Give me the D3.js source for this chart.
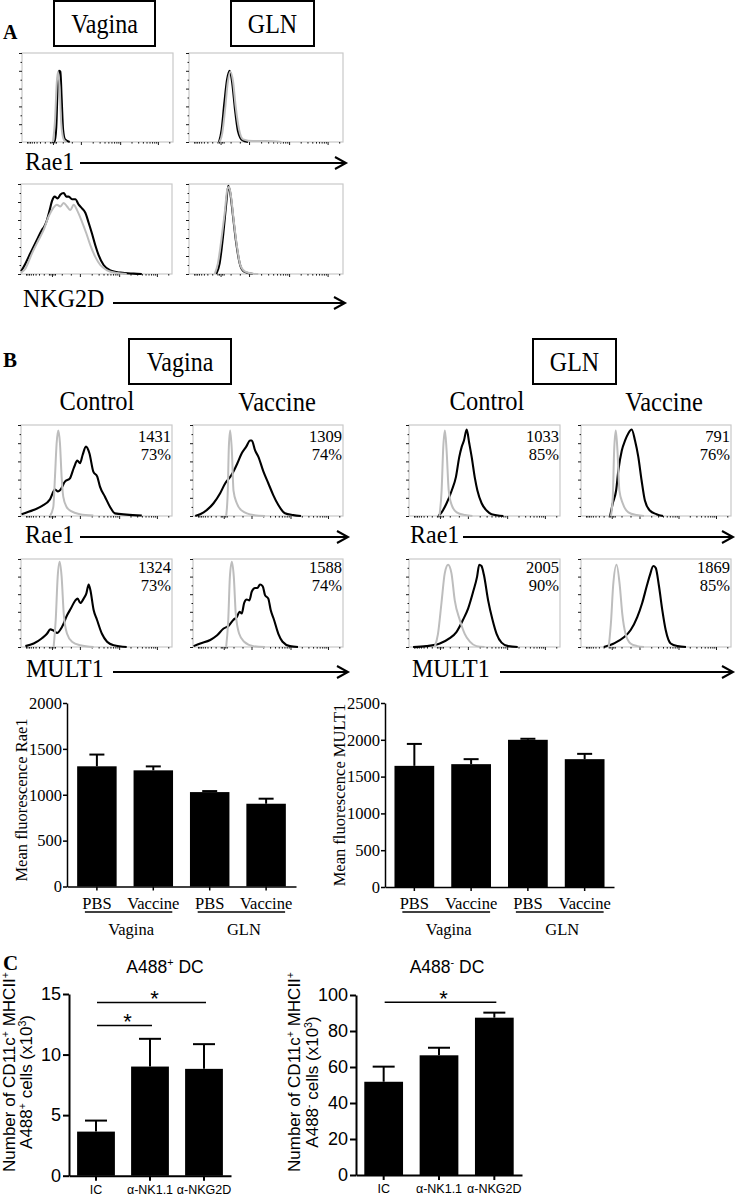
<!DOCTYPE html>
<html><head><meta charset="utf-8">
<script src="https://cdn.jsdelivr.net/npm/d3@7"></script>
<style>body{margin:0;background:#fff}svg{display:block}</style>
</head><body><script>
// ================= DATA =================
// Flow histograms: [channel position (% of axis), count (% of max)]
const histXMajorTicks = [20.5, 39, 65, 90];
const histYTicks = [0, 20, 40, 60, 80, 100];
const histYMinorTicks = [10, 30, 50, 70, 90];

const aVagRae1Black = [[20,0],[21.6,0.5],[22.7,17],[23.6,62],[24.5,80],[25.4,79],[26.3,47],[27.2,14],[28.5,3],[31.6,0]];
const aVagRae1Gray  = [[20.5,0],[21.9,25],[23,66],[23.8,79],[24.9,62],[26,21],[27.6,3],[29.4,0]];
const aGlnRae1Black = [[19.5,0],[21.2,14],[22.9,43],[24.7,70],[26.4,80],[28.1,66],[29.9,36],[31.8,12],[34.6,2],[38.3,0]];
const aGlnRae1Gray  = [[19.9,0],[21.6,10],[23.4,36],[25.1,66],[26.8,79],[28.6,68],[30.3,40],[32.5,14],[35.1,3],[41.6,1],[50.2,1],[60,0]];
const aVagNkg2dBlack = [[0,3],[1.8,8],[6.2,23],[10.6,38],[13.9,49],[15.5,53],[17.2,60],[19,71],[20.5,81],[22.3,86],[24.3,84],[26,88],[28.3,90],[30,86],[31.6,86],[33.8,83],[36,83],[38.2,77],[40.4,73],[42.6,68],[44.8,57],[47,45],[49.2,32],[51.4,21],[54.7,10],[59.2,4],[65.8,1.5],[74.6,0.4],[80,0]];
const aVagNkg2dGray  = [[0,1.5],[2.9,6],[7.3,23],[11.7,38],[15,49],[18.3,64],[21.2,73],[23.8,77],[26,75],[28.3,79],[30.5,75],[32.7,71],[34.9,77],[37.1,71],[40.4,58],[43.3,45],[45.9,32],[49.2,19],[52.5,10],[57,4],[63.6,1],[70,0]];
const aGlnNkg2dBlack = [[17.7,0],[19.9,12],[22.1,42],[24,75],[25.5,98],[26.8,90],[28.6,64],[30.7,34],[32.9,12],[35.5,3],[41.6,0]];
const aGlnNkg2dGray  = [[16.7,0],[18.8,12],[21,38],[23.2,68],[24.9,94],[26,97],[27.3,86],[29,60],[31.2,30],[33.3,10],[36.1,3],[41.6,0.4],[45,0]];

const bVagCtrlRae1Black = [[0.4,2],[8.2,6.6],[14,11],[19.2,18.3],[22.5,29],[24.5,27],[26,28.6],[29.1,37.7],[32.4,41.4],[35.1,53.5],[37.3,60.8],[39.1,58],[40.8,67],[43,76.2],[45.3,68.9],[47.9,48.7],[50.5,43.2],[52.3,32.2],[55.6,21.2],[58.9,10.2],[62.2,2.9],[69.8,1.5],[80,0.5]];
const bVagCtrlRae1Gray  = [[19.2,0],[21.4,10],[22.5,43],[23.6,80],[24.7,94],[25.8,80],[26.9,43],[28,21],[30.2,10],[33.5,5],[39,2],[47.9,0.5]];
const bVagVacRae1Black = [[1.5,0],[7.1,4],[13.7,14],[18.1,25],[21.5,36],[24.8,43],[27,49],[29.6,58],[32.5,69],[35.4,76],[38.1,83],[39.2,83],[41.4,72],[43.6,65],[46.9,49],[50.2,36],[53.5,23],[56.9,12],[61.3,3],[66.8,1],[72,0]];
const bVagVacRae1Gray  = [[22.1,0],[23.2,28],[23.9,76],[24.8,94],[25.9,72],[27,28],[29.2,14],[32.5,6],[40.3,1],[48,0]];
const bGlnCtrlRae1Black = [[19.4,0],[21.6,4],[24.9,14],[28.3,28],[31.1,43],[33.3,65],[34.9,76],[36.4,83],[38.2,95],[39.9,80],[41.5,65],[43.7,41],[45.3,28],[48.1,14],[51.4,6],[54.7,2],[62.5,0]];
const bGlnCtrlRae1Gray  = [[20.1,0],[21.6,28],[22.7,76],[23.8,94],[24.9,72],[26.3,28],[28.3,12],[31.6,4],[37.1,1],[42,0]];
const bGlnVacRae1Black = [[19.4,0],[21.2,14],[23.4,28],[24.9,50],[27.2,72],[29.4,83],[31.6,91],[33.8,95],[36,83],[38.2,65],[40.4,39],[42.6,17],[45.9,6],[50.3,2],[54.7,0]];
const bGlnVacRae1Gray  = [[19.9,0],[21.2,21],[22.1,72],[23.2,94],[24.3,72],[25.6,28],[27.8,14],[31.6,4],[37.1,1],[42,0]];

const bVagCtrlMult1Black = [[2.9,1],[8.4,4],[13.9,10],[17.2,15],[19.4,20],[21.2,19],[23.8,16],[27.2,23],[30.5,36],[33.1,44],[36,53],[37.5,55],[39.3,50],[41.5,55],[43.3,61],[44.8,71],[45.9,65],[48.1,42],[50.3,31],[53.6,15],[57,6],[61.4,2],[70,0]];
const bVagCtrlMult1Gray  = [[21.6,0],[23,31],[24.3,80],[25.6,97],[26.9,80],[28.3,38],[30.5,15],[33.8,6],[39.3,2],[48.1,0]];
const bVagVacMult1Black = [[0.4,1],[4.9,4],[11.5,8],[15.9,13],[20.4,21],[23.7,24],[27,31],[29.2,34],[31,40],[32.5,38],[34.1,50],[35.8,54],[37.6,53],[39.2,63],[41.4,67],[42.9,67],[44.7,71],[46.5,69],[48,59],[50.2,55],[51.8,42],[54,31],[56.9,15],[59.7,6],[64.6,1],[70,0]];
const bVagVacMult1Gray  = [[22.1,0],[23.5,31],[24.6,80],[25.9,97],[27.2,80],[28.5,38],[30.8,15],[34.1,6],[40.3,1],[48,0]];
const bGlnCtrlMult1Black = [[2.7,0],[11.5,1],[20.4,4],[27,10],[31.4,17],[35.8,31],[39.2,44],[42.5,63],[45.1,80],[46.5,93.5],[48,92],[49.6,82],[52.4,53],[55.3,31],[58,15],[61.3,5],[65.7,1],[72,0]];
const bGlnCtrlMult1Gray  = [[17,0],[19.2,15],[21.5,50],[23.7,84],[25.9,93.5],[28.1,84],[30.3,53],[33.6,31],[36.9,15],[40.3,6],[44.7,1],[50,0]];
const bGlnVacMult1Black = [[15.2,0],[21.9,4],[28.6,11],[33,19],[37.5,34],[40.8,50],[43.8,69],[46,82],[48.2,92],[49.8,90],[52,69],[54.2,42],[56.5,19],[59.8,4],[64.3,1],[70,0]];
const bGlnVacMult1Gray  = [[18.5,0],[20.1,31],[21.4,69],[23.7,93.5],[25.9,69],[27.5,38],[29.7,15],[33,4],[37.5,1],[42,0]];

const bRae1Stats  = [["1431","73%"],["1309","74%"],["1033","85%"],["791","76%"]];
const bMult1Stats = [["1324","73%"],["1588","74%"],["2005","90%"],["1869","85%"]];

// Bar charts (panel B)
const barCategories = ["PBS","Vaccine","PBS","Vaccine"];
const barGroups = ["Vagina","GLN"];
const rae1Mean = [1310, 1266, 1029, 902];
const rae1Err  = [128, 43, 11, 55];
const rae1Ticks = [0, 500, 1000, 1500, 2000];
const mult1Mean = [1646, 1669, 2000, 1737];
const mult1Err  = [298, 68, 14, 72];
const mult1Ticks = [0, 500, 1000, 1500, 2000, 2500];

// Panel C
const dcCategories = ["IC","α-NK1.1","α-NKG2D"];
const dcPosMean = [3.64, 9.01, 8.82];
const dcPosErr  = [0.91, 2.29, 2.04];
const dcPosTicks = [0, 5, 10, 15];
const dcPosSigPairs = [[0,2],[0,1]];
const dcPosSigLevels = [14.3, 12.4];
const dcNegMean = [51.8, 66.5, 87.4];
const dcNegErr  = [8.4, 4.2, 2.8];
const dcNegTicks = [0, 20, 40, 60, 80, 100];
const dcNegSigPairs = [[0,2]];
const dcNegSigLevels = [96];

// ================= DRAWING =================
const SERIF = "'Liberation Serif','Times New Roman',serif";
const SANS = "'Liberation Sans',Arial,sans-serif";
const svg = d3.select("body").append("svg").attr("width",736).attr("height",1196);

function txt(x, y, s, o = {}) {
  const t = svg.append("text").text(s)
    .attr("font-family", o.family || SERIF).attr("font-size", o.size || 24)
    .attr("font-weight", o.weight || "normal").attr("text-anchor", o.anchor || "start")
    .attr("fill", "#000");
  if (o.sy) t.attr("transform", `translate(${x},${y}) scale(1,${o.sy})`);
  else t.attr("x", x).attr("y", y);
  return t;
}
function rich(t, parts, size) {
  let up = false;
  parts.forEach(([s, sup]) => {
    const ts = t.append("tspan").text(s);
    if (sup) { ts.attr("font-size", size * 0.62); if (!up) { ts.attr("dy", -size * 0.38); up = true; } }
    else if (up) { ts.attr("dy", size * 0.38); up = false; }
  });
}
function box(x, y, w, h, label) {
  svg.append("rect").attr("x", x).attr("y", y).attr("width", w).attr("height", h)
    .attr("fill", "#fff").attr("stroke", "#000").attr("stroke-width", 2);
  txt(x + w / 2, y + 32, label, {anchor: "middle", size: 24, sy: 1.15});
}
function arrow(x1, x2, y) {
  svg.append("line").attr("x1", x1).attr("x2", x2 - 1).attr("y1", y).attr("y2", y)
    .attr("stroke", "#000").attr("stroke-width", 2);
  svg.append("polyline").attr("points", `${x2-11},${y-6} ${x2},${y} ${x2-11},${y+6}`)
    .attr("fill", "none").attr("stroke", "#000").attr("stroke-width", 2);
}

const histXMinorTicks = [];
[[39,65],[65,90],[90,115]].forEach(([a,b]) => { for (let k = 2; k < 10; k++) { const v = a + (b - a) * Math.log10(k); if (v < 100) histXMinorTicks.push(v); } });
for (let k = 2; k < 10; k++) histXMinorTicks.push(20.5 - 18 * Math.log10(k));
[18.5, 19.5, 21.5, 22.5, 27, 33].forEach(v => histXMinorTicks.push(v));

function hist(x0, y0, w, h, black, gray, stats, statsOff) {
  const xs = d3.scaleLinear().domain([0, 100]).range([x0, x0 + w]);
  const ys = d3.scaleLinear().domain([0, 100]).range([y0 + h, y0]);
  const g = svg.append("g");
  g.append("rect").attr("x", x0).attr("y", y0).attr("width", w).attr("height", h)
    .attr("fill", "none").attr("stroke", "#c9c9c9").attr("stroke-width", 1.2);
  const ya = g.append("g").attr("transform", `translate(${x0},0)`)
    .call(d3.axisLeft(ys).tickValues(histYTicks).tickSize(3).tickFormat(""));
  const ym = g.append("g").attr("transform", `translate(${x0},0)`)
    .call(d3.axisLeft(ys).tickValues(histYMinorTicks).tickSize(1.5).tickFormat(""));
  const xa = g.append("g").attr("transform", `translate(0,${y0 + h})`)
    .call(d3.axisBottom(xs).tickValues(histXMajorTicks).tickSize(3).tickFormat(""));
  const xm = g.append("g").attr("transform", `translate(0,${y0 + h})`)
    .call(d3.axisBottom(xs).tickValues(histXMinorTicks).tickSize(1.6).tickFormat(""));
  [ya, ym, xa, xm].forEach(a => { a.select(".domain").remove(); a.selectAll("line").attr("stroke", "#000").attr("stroke-width", 0.9); });
  const line = d3.line().x(d => xs(d[0])).y(d => ys(d[1])).curve(d3.curveMonotoneX);
  g.append("path").attr("d", line(black)).attr("fill", "none").attr("stroke", "#000").attr("stroke-width", 2.1).attr("stroke-linejoin", "round");
  g.append("path").attr("d", line(gray)).attr("fill", "none").attr("stroke", "#bdbdbd").attr("stroke-width", 2).attr("stroke-linejoin", "round");
  if (stats) {
    txt(x0 + w - 1, y0 + statsOff, stats[0], {anchor: "end", size: 16.5});
    txt(x0 + w - 1, y0 + statsOff + 18, stats[1], {anchor: "end", size: 16.5});
  }
}

// ---------- Panel A ----------
txt(3, 39, "A", {size: 20, weight: "bold"});
box(54, 1, 101, 45, "Vagina");
box(231, 1, 83, 45, "GLN");
hist(22, 53, 151, 89, aVagRae1Black, aVagRae1Gray);
hist(189, 53, 154, 89, aGlnRae1Black, aGlnRae1Gray);
txt(25, 170, "Rae1", {size: 24, sy: 1.08});
arrow(80, 346, 163);
hist(21, 184, 151, 90, aVagNkg2dBlack, aVagNkg2dGray);
hist(189, 184, 154, 90, aGlnNkg2dBlack, aGlnNkg2dGray);
txt(23, 307, "NKG2D", {size: 24, sy: 1.08});
arrow(113, 345, 303);

// ---------- Panel B ----------
txt(3, 367, "B", {size: 21, weight: "bold"});
box(129, 339, 102, 45, "Vagina");
box(533, 339, 83, 45, "GLN");
txt(97, 410, "Control", {anchor: "middle", size: 24.5, sy: 1.15});
txt(277, 411, "Vaccine", {anchor: "middle", size: 24.5, sy: 1.15});
txt(487, 410, "Control", {anchor: "middle", size: 24.5, sy: 1.15});
txt(664, 411, "Vaccine", {anchor: "middle", size: 24.5, sy: 1.15});

const bHistX = [[21,151],[193,150],[409,151],[581,150]];
const rae1Hists = [[bVagCtrlRae1Black,bVagCtrlRae1Gray],[bVagVacRae1Black,bVagVacRae1Gray],[bGlnCtrlRae1Black,bGlnCtrlRae1Gray],[bGlnVacRae1Black,bGlnVacRae1Gray]];
const mult1Hists = [[bVagCtrlMult1Black,bVagCtrlMult1Gray],[bVagVacMult1Black,bVagVacMult1Gray],[bGlnCtrlMult1Black,bGlnCtrlMult1Gray],[bGlnVacMult1Black,bGlnVacMult1Gray]];
bHistX.forEach(([x, w], i) => {
  hist(x, 425, w, 91, rae1Hists[i][0], rae1Hists[i][1], bRae1Stats[i], 17);
  hist(x, 559, w, 88, mult1Hists[i][0], mult1Hists[i][1], bMult1Stats[i], 14);
});
txt(25, 543, "Rae1", {size: 24, sy: 1.08});
arrow(80, 348, 537);
txt(410, 543, "Rae1", {size: 24, sy: 1.08});
arrow(463, 733, 537);
txt(26, 677, "MULT1", {size: 24, sy: 1.08});
arrow(113, 348, 672);
txt(412, 677, "MULT1", {size: 24, sy: 1.08});
arrow(500, 733, 672);

function styleAxis(a, family, size, sw) {
  a.attr("font-family", family).attr("font-size", size);
  a.selectAll("path,line").attr("stroke", "#000").attr("stroke-width", sw);
  a.selectAll("text").attr("fill", "#000");
}

function barChart(o) {
  const y = d3.scaleLinear().domain([0, o.max]).range([o.yb, o.yt]);
  const x = d3.scaleBand().domain(d3.range(o.means.length)).range([o.x0, o.x1]).paddingInner(o.pi).paddingOuter(o.po);
  const g = svg.append("g");
  g.selectAll("rect.bar").data(o.means).join("rect").attr("class", "bar")
    .attr("x", (d, i) => x(i)).attr("y", d => y(d)).attr("width", x.bandwidth())
    .attr("height", d => y(0) - y(d)).attr("fill", "#000");
  o.means.forEach((m, i) => {
    const cx = x(i) + x.bandwidth() / 2;
    g.append("line").attr("x1", cx).attr("x2", cx).attr("y1", y(m)).attr("y2", y(m + o.errs[i])).attr("stroke", "#000").attr("stroke-width", 2);
    g.append("line").attr("x1", cx - o.cap / 2).attr("x2", cx + o.cap / 2).attr("y1", y(m + o.errs[i])).attr("y2", y(m + o.errs[i])).attr("stroke", "#000").attr("stroke-width", 2);
  });
  const ya = g.append("g").attr("transform", `translate(${o.x0},0)`)
    .call(d3.axisLeft(y).tickValues(o.ticks).tickSize(o.ytick).tickPadding(o.ypad).tickSizeOuter(0).tickFormat(d3.format("d")));
  styleAxis(ya, o.family, o.tickFont, o.sw);
  const xa = g.append("g").attr("transform", `translate(0,${o.yb})`)
    .call(d3.axisBottom(x).tickSize(o.xtick).tickSizeOuter(0).tickFormat(i => o.cats[i]));
  styleAxis(xa, o.family, o.xFont, o.sw);
  xa.selectAll("text").attr("y", o.xLabelOff).attr("dy", null);
  return {x, y, g, cx: i => x(i) + x.bandwidth() / 2};
}

function groupLabels(c, baseY) {
  barGroups.forEach((gname, k) => {
    const a = c.cx(2 * k), b = c.cx(2 * k + 1);
    svg.append("line").attr("x1", a - 12).attr("x2", b + 19).attr("y1", baseY + 3).attr("y2", baseY + 3)
      .attr("stroke", "#000").attr("stroke-width", 1.5);
    txt((a + b) / 2 + 6, baseY + 26, gname, {anchor: "middle", size: 16.5});
  });
}

const cRae1 = barChart({means: rae1Mean, errs: rae1Err, max: 2000, ticks: rae1Ticks, yb: 886.5, yt: 703,
  x0: 67, x1: 296, pi: 0.3, po: 0.18, cap: 15, ytick: 4, ypad: 1, xtick: 4, sw: 1.5,
  family: SERIF, tickFont: 16.5, xFont: 16.5, xLabelOff: 22.5, cats: barCategories});
groupLabels(cRae1, 909);
svg.append("text").attr("transform", "translate(27,800) rotate(-90)").attr("text-anchor", "middle")
  .attr("font-family", SERIF).attr("font-size", 16.5).text("Mean fluorescence Rae1");

const cMult1 = barChart({means: mult1Mean, errs: mult1Err, max: 2500, ticks: mult1Ticks, yb: 887, yt: 703,
  x0: 385, x1: 614, pi: 0.3, po: 0.167, cap: 15, ytick: 4, ypad: 1, xtick: 4, sw: 1.5,
  family: SERIF, tickFont: 16.5, xFont: 16.5, xLabelOff: 22, cats: barCategories});
groupLabels(cMult1, 909);
svg.append("text").attr("transform", "translate(345,795) rotate(-90)").attr("text-anchor", "middle")
  .attr("font-family", SERIF).attr("font-size", 16.5).text("Mean fluorescence MULT1");

// ---------- Panel C ----------
txt(3, 970, "C", {size: 21, weight: "bold"});

function dcChart(o) {
  const c = barChart({means: o.means, errs: o.errs, max: o.max, ticks: o.ticks, yb: o.yb, yt: o.yt,
    x0: o.x0, x1: o.x1, pi: 0.3, po: 0.15, cap: 22, ytick: 6, ypad: 2, xtick: 5, sw: 2,
    family: SANS, tickFont: 18, xFont: 12.5, xLabelOff: 18, cats: dcCategories});
  o.pairs.forEach(([a, b], k) => {
    const yy = c.y(o.levels[k]);
    const xa = c.cx(a) + 1, xb = c.cx(b) + 2;
    svg.append("line").attr("x1", xa).attr("x2", xb).attr("y1", yy).attr("y2", yy).attr("stroke", "#000").attr("stroke-width", 1.6);
    txt((xa + xb) / 2 + 3, yy + 4, "*", {anchor: "middle", size: 22, family: SANS});
  });
  const t = svg.append("text").attr("x", o.titleX).attr("y", 973).attr("text-anchor", "middle")
    .attr("font-family", SANS).attr("font-size", 17.5);
  rich(t, [["A488"], [o.sign, true], [" DC"]], 17.5);
  const l1 = svg.append("text").attr("transform", `translate(${o.tx1},1072) rotate(-90)`).attr("text-anchor", "middle")
    .attr("font-family", SANS).attr("font-size", 17);
  rich(l1, [["Number of CD11c"], ["+", true], [" MHCII"], ["+", true]], 17);
  const l2 = svg.append("text").attr("transform", `translate(${o.tx2},1082) rotate(-90)`).attr("text-anchor", "middle")
    .attr("font-family", SANS).attr("font-size", 17);
  rich(l2, [["A488"], [o.sign, true], [" cells (x10"], ["3", true], [")"]], 17);
}

dcChart({means: dcPosMean, errs: dcPosErr, max: 15, ticks: dcPosTicks, yb: 1175.7, yt: 994,
  x0: 69, x1: 231, pairs: dcPosSigPairs, levels: dcPosSigLevels, sign: "+", titleX: 165, tx1: 15, tx2: 32});
dcChart({means: dcNegMean, errs: dcNegErr, max: 100, ticks: dcNegTicks, yb: 1175, yt: 995,
  x0: 356, x1: 522, pairs: dcNegSigPairs, levels: dcNegSigLevels, sign: "-", titleX: 447, tx1: 300, tx2: 318});
</script></body></html>
